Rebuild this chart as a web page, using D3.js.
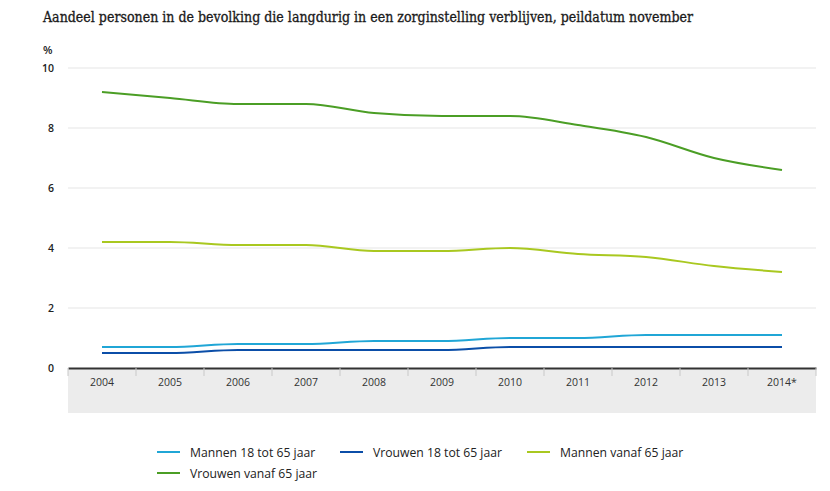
<!DOCTYPE html>
<html><head><meta charset="utf-8">
<script src="https://cdn.jsdelivr.net/npm/d3@7"></script>
<style>body{margin:0;background:#fff}</style>
</head><body><svg id="c" width="830" height="491"></svg>
<script>
const years = ["2004","2005","2006","2007","2008","2009","2010","2011","2012","2013","2014*"];
const mannen1865 = [0.7,0.7,0.8,0.8,0.9,0.9,1.0,1.0,1.1,1.1,1.1];
const vrouwen1865 = [0.5,0.5,0.6,0.6,0.6,0.6,0.7,0.7,0.7,0.7,0.7];
const mannen65 = [4.2,4.2,4.1,4.1,3.9,3.9,4.0,3.8,3.7,3.4,3.2];
const vrouwen65 = [9.2,9.0,8.8,8.8,8.5,8.4,8.4,8.1,7.7,7.0,6.6];
const yTicks = [0,2,4,6,8,10];
const seriesNames = ["Mannen 18 tot 65 jaar","Vrouwen 18 tot 65 jaar","Mannen vanaf 65 jaar","Vrouwen vanaf 65 jaar"];
const seriesColors = ["#20a6d6","#0b4ea8","#a9c820","#4b9e25"];
const seriesData = [mannen1865, vrouwen1865, mannen65, vrouwen65];

const svg = d3.select("#c");
const L = 68, R = 816, T = 68, B = 368;
const x = d3.scaleBand().domain(years).range([L, R]);
const y = d3.scaleLinear().domain([0,10]).range([B, T]);

svg.append("text").attr("x",43).attr("y",22)
  .attr("font-family","DejaVu Serif Condensed, DejaVu Serif, serif").attr("font-stretch","condensed")
  .attr("font-size",15).attr("fill","#1a1a1a").attr("stroke","#1a1a1a").attr("stroke-width",0.3)
  .attr("textLength",650).attr("lengthAdjust","spacingAndGlyphs")
  .text("Aandeel personen in de bevolking die langdurig in een zorginstelling verblijven, peildatum november");
svg.append("text").attr("x",43).attr("y",54).attr("font-family","Open Sans, sans-serif")
  .attr("font-size",11).attr("font-weight","600").attr("fill","#222").text("%");

// grid
svg.append("g").selectAll("line").data(yTicks.filter(d=>d>0)).join("line")
  .attr("x1",L).attr("x2",R).attr("y1",d=>y(d)).attr("y2",d=>y(d))
  .attr("stroke","#eeeeee").attr("stroke-width",1.5);
svg.append("g").selectAll("text").data(yTicks).join("text")
  .attr("x",54).attr("y",d=>y(d)+4).attr("text-anchor","end")
  .attr("font-family","Open Sans, sans-serif").attr("font-size",10.5).attr("font-weight","600").attr("fill","#222")
  .text(d=>d);

// axis band
svg.append("rect").attr("x",L).attr("y",B).attr("width",R-L).attr("height",45).attr("fill","#ececec");
const xa = svg.append("g").attr("transform",`translate(0,${B})`)
  .call(d3.axisBottom(x).tickSize(0).tickPadding(11));
xa.select(".domain").attr("stroke","#333").attr("stroke-width",2);
xa.selectAll("text").attr("font-family","Open Sans, sans-serif").attr("font-size",10.5).attr("fill","#333");
const bounds = years.map(d=>x(d)).concat([R]);
xa.selectAll("line.sep").data(bounds).join("line").attr("class","sep")
  .attr("x1",d=>d).attr("x2",d=>d).attr("y1",0).attr("y2",8).attr("stroke","#c8c8c8");

// lines
const line = d3.line().x((d,i)=>x(years[i])+x.bandwidth()/2).y(d=>y(d)).curve(d3.curveMonotoneX);
svg.append("g").selectAll("path").data(seriesData).join("path")
  .attr("d",line).attr("fill","none").attr("stroke",(d,i)=>seriesColors[i]).attr("stroke-width",2);

// legend
const legPos = [[157,452],[340,452],[527,452],[157,473]];
const lg = svg.append("g").selectAll("g").data(seriesNames).join("g")
  .attr("transform",(d,i)=>`translate(${legPos[i][0]},${legPos[i][1]})`);
lg.append("line").attr("x1",0).attr("x2",23).attr("stroke",(d,i)=>seriesColors[i]).attr("stroke-width",2);
lg.append("text").attr("x",33).attr("y",4.5).attr("font-family","Open Sans, sans-serif")
  .attr("font-size",12.2).attr("fill","#222").text(d=>d);
</script></body></html>
